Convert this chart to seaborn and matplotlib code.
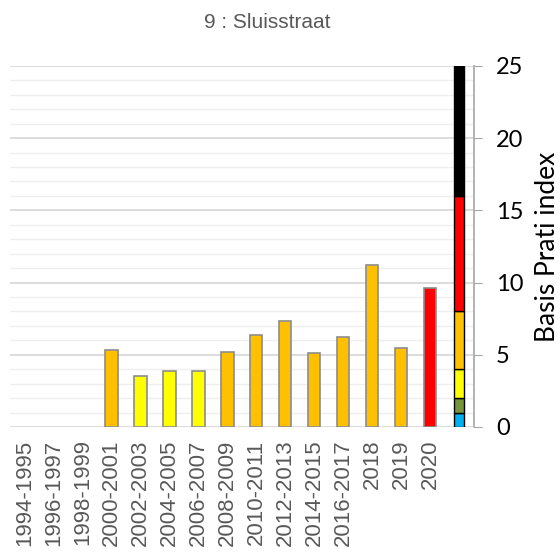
import matplotlib
matplotlib.use("Agg")
import matplotlib.pyplot as plt
import seaborn as sns
import pandas as pd
from matplotlib.ticker import MultipleLocator

periods = ["1994-1995", "1996-1997", "1998-1999", "2000-2001", "2002-2003", "2004-2005",
           "2006-2007", "2008-2009", "2010-2011", "2012-2013", "2014-2015", "2016-2017",
           "2018", "2019", "2020"]
values = [0, 0, 0, 5.3, 3.5, 3.9, 3.9, 5.2, 6.35, 7.35, 5.1, 6.2, 11.2, 5.5, 9.65]
bar_colors = ["#FFC000", "#FFC000", "#FFC000", "#FFC000", "#FFFF00", "#FFFF00", "#FFFF00",
              "#FFC000", "#FFC000", "#FFC000", "#FFC000", "#FFC000", "#FFC000", "#FFC000", "#FF0000"]

scale_bounds = [0, 1, 2, 4, 8, 16, 25]
scale_colors = ["#00B0F0", "#77933C", "#FFFF00", "#FFC000", "#FF0000", "#000000"]

sns.set_style("white")
plt.rcParams['font.family'] = ['Liberation Sans', 'DejaVu Sans']

fig = plt.figure(figsize=(5.6, 5.58), dpi=100)
ax = fig.add_axes([0.018, 0.2348, 0.828, 0.647])

order = periods + [" "]
df = pd.DataFrame({"period": periods, "value": values})
pal = {p: c for p, c in zip(periods, bar_colors)}
sns.barplot(data=df, x="period", y="value", hue="period", palette=pal, order=order,
            hue_order=periods, legend=False, width=0.42, edgecolor="#8c8c8c",
            linewidth=1.2, ax=ax, dodge=False, saturation=1)
for p in ax.patches:
    if p.get_height() == 0:
        p.set_visible(False)

# scale bar
lx = len(periods)
for lo, hi, c in zip(scale_bounds[:-1], scale_bounds[1:], scale_colors):
    ax.bar(lx, hi - lo, bottom=lo, width=0.36, color=c, edgecolor="black", linewidth=1.0, zorder=3)

ax.set_xlim(-0.5, len(order) - 0.5)
ax.set_ylim(0, 25)
ax.yaxis.set_major_locator(MultipleLocator(5))
ax.yaxis.set_minor_locator(MultipleLocator(1))
ax.grid(axis="y", which="major", color="#d9d9d9", linewidth=1.3, zorder=0)
ax.grid(axis="y", which="minor", color="#efefef", linewidth=1.0, zorder=0)
ax.set_axisbelow(True)

for s in ["top", "left", "bottom"]:
    ax.spines[s].set_visible(False)
ax.spines["right"].set_color("#a6a6a6")
ax.spines["right"].set_linewidth(1.2)
ax.yaxis.tick_right()
ax.yaxis.set_label_position("right")
ax.tick_params(axis="y", which="major", direction="out", length=6, color="#a6a6a6",
               labelsize=17, pad=10, right=True, left=False)
ax.tick_params(axis="y", which="minor", length=0)
for t in ax.get_yticklabels():
    t.set_fontfamily(["Lato", "DejaVu Sans"])
    t.set_color("black")
ax.set_ylabel("Basis Prati index", fontsize=19, fontfamily=["Lato", "DejaVu Sans"],
              color="black", labelpad=8)

ax.set_xlabel("")
ax.tick_params(axis="x", length=0, labelsize=16, labelcolor="#595959", pad=9)
ax.set_xticks(range(len(order)))
ax.set_xticklabels(order, rotation=90)

fig.text(0.477, 0.96, "9 : Sluisstraat", ha="center", va="center", fontsize=15,
         color="#595959")

fig.savefig("out.png", dpi=100)
